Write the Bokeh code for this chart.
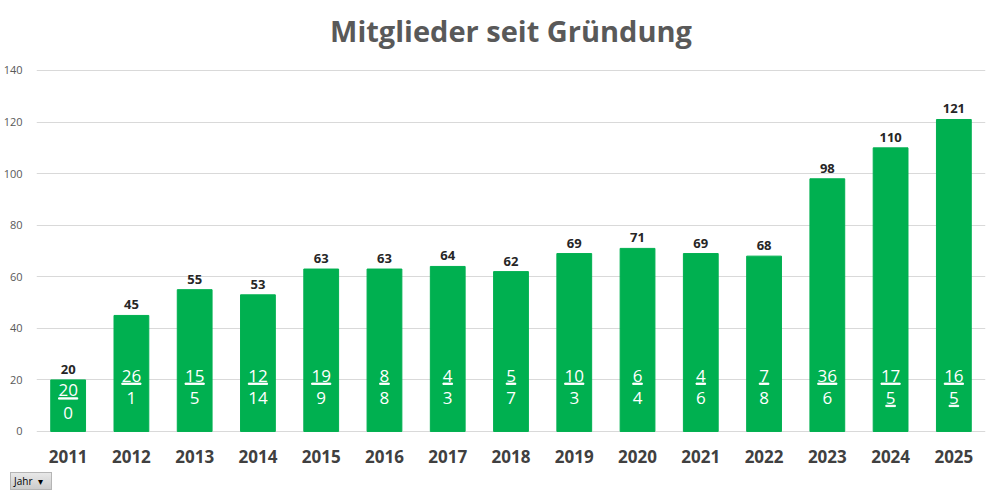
from bokeh.plotting import figure
from bokeh.models import ColumnDataSource, Range1d, FixedTicker, Div
from bokeh.layouts import column
from bokeh.core.properties import value
from bokeh.embed import file_html
from bokeh.resources import INLINE

# ---- data ----
years = ["2011", "2012", "2013", "2014", "2015", "2016", "2017", "2018",
         "2019", "2020", "2021", "2022", "2023", "2024", "2025"]
members = [20, 45, 55, 53, 63, 63, 64, 62, 69, 71, 69, 68, 98, 110, 121]
joined = [20, 26, 15, 12, 19, 8, 4, 5, 10, 6, 4, 7, 36, 17, 16]
left = [0, 1, 5, 14, 9, 8, 3, 7, 3, 4, 6, 8, 6, 5, 5]
left_underlined = [False] * 13 + [True, True]
y_ticks = [0, 20, 40, 60, 80, 100, 120, 140]
title_text = "Mitglieder seit Gründung"
filter_label = "Jahr &nbsp;&#9662;"

FONT = "Open Sans"
GREEN = "#00B050"

# label layout derived from the data
num_y = [min(21.6, m - 4.1) for m in members]
den_y = [y - 8.6 for y in num_y]
ul_y = [y - 3.1 for y in num_y]
ul_w = [len(str(j)) * 9.6 for j in joined]
ul2_y = [y - 3.1 for y in den_y]
ul2_w = [len(str(l)) * 9.6 for l in left]

src = ColumnDataSource(dict(
    year=years, members=members, joined=[str(j) for j in joined],
    left=[str(l) for l in left], top_lbl=[str(m) for m in members],
    num_y=num_y, den_y=den_y, ul_y=ul_y, ul_w=ul_w,
))
src2 = ColumnDataSource(dict(
    year=[y for y, f in zip(years, left_underlined) if f],
    ul2_y=[v for v, f in zip(ul2_y, left_underlined) if f],
    ul2_w=[v for v, f in zip(ul2_w, left_underlined) if f],
))

p = figure(x_range=years, y_range=Range1d(-0.4, 146.98),
           frame_width=949, frame_height=380,
           output_backend="svg", toolbar_location=None,
           min_border_left=30, min_border_right=5, min_border_top=44,
           min_border_bottom=35)
p.x_range.range_padding = 0
p.margin = (6, 0, 0, 0)

p.title.text = title_text
p.title.align = "center"
p.title.text_font = FONT
p.title.text_font_size = "29px"
p.title.text_font_style = "bold"
p.title.text_color = "#595959"
p.title.standoff = 5

p.vbar(x="year", top="members", width=0.55, source=src, color=GREEN)

# value labels above bars
p.text(x="year", y="members", text="top_lbl", source=src,
       text_align="center", text_baseline="bottom", y_offset=-6,
       text_font=value(FONT), text_font_size="13px", text_font_style="bold",
       text_color="#262626")

# in-bar labels: joined / left
p.text(x="year", y="num_y", text="joined", source=src,
       text_align="center", text_baseline="middle",
       text_font=value(FONT), text_font_size="17px", text_color="white")
p.text(x="year", y="den_y", text="left", source=src,
       text_align="center", text_baseline="middle",
       text_font=value(FONT), text_font_size="17px", text_color="white")
p.rect(x="year", y="ul_y", width="ul_w", height=1.3, width_units="screen",
       height_units="screen", source=src, color="white")
p.rect(x="year", y="ul2_y", width="ul2_w", height=1.3, width_units="screen",
       height_units="screen", source=src2, color="white")

# axes & grid
p.yaxis.ticker = FixedTicker(ticks=y_ticks)
p.ygrid.ticker = FixedTicker(ticks=y_ticks)
p.ygrid.grid_line_color = "#D9D9D9"
p.ygrid.grid_line_width = 1
p.xgrid.grid_line_color = None
p.outline_line_color = None

for ax in (p.xaxis, p.yaxis):
    ax.axis_line_color = None
    ax.major_tick_line_color = None
    ax.minor_tick_line_color = None

p.yaxis.major_label_text_font = FONT
p.yaxis.major_label_text_font_size = "11px"
p.yaxis.major_label_text_color = "#595959"
p.yaxis.major_label_standoff = 8

p.xaxis.major_label_text_font = FONT
p.xaxis.major_label_text_font_size = "17px"
p.xaxis.major_label_text_font_style = "bold"
p.xaxis.major_label_text_color = "#404040"
p.xaxis.major_label_standoff = 11

# filter button below the chart
btn = Div(text=filter_label, width=42, height=18, margin=(5, 0, 0, 10),
          styles={"background": "linear-gradient(#E8E8E8, #CCCCCC)",
                  "border": "1px solid #B5B5B5", "box-sizing": "border-box",
                  "font-family": "Open Sans", "font-size": "10px",
                  "color": "#000000", "padding": "1px 3px",
                  "line-height": "14px", "white-space": "nowrap"})

layout = column(p, btn, spacing=0)
open("out.html", "w").write(file_html(layout, INLINE))
